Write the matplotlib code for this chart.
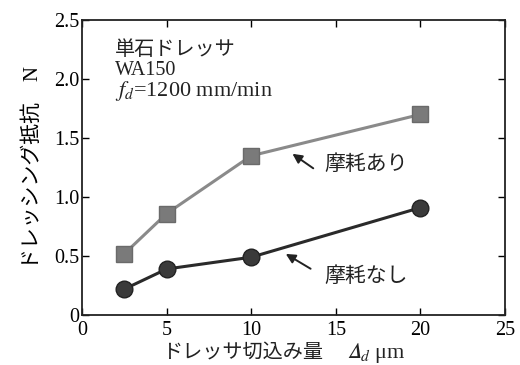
import matplotlib
matplotlib.use("Agg")
import matplotlib.pyplot as plt

x_vals = [2.5, 5, 10, 20]
wear_yes = [0.52, 0.86, 1.35, 1.70]
wear_no = [0.22, 0.39, 0.49, 0.91]
xticks = [0, 5, 10, 15, 20, 25]
yticks = [0, 0.5, 1.0, 1.5, 2.0, 2.5]
ytick_labels = ["0", "0.5", "1.0", "1.5", "2.0", "2.5"]

plt.rcParams['font.family'] = ['Liberation Serif', 'Noto Sans CJK JP']
plt.rcParams['mathtext.fontset'] = 'stix'

fig = plt.figure(figsize=(5.2, 3.65), dpi=100)
ax = fig.add_axes([0.158, 0.137, 0.813, 0.808])

ax.plot(x_vals, wear_yes, color='#8a8a8a', lw=2.2, marker='s', ms=12,
        mfc='#7a7a7a', mec='#6a6a6a', zorder=3)
ax.plot(x_vals, wear_no, color='#2a2a2a', lw=2.2, marker='o', ms=12,
        mfc='#3a3a3a', mec='#222222', zorder=3)

ax.set_xlim(0, 25)
ax.set_ylim(0, 2.5)
ax.set_xticks(xticks)
ax.set_xticklabels([str(t) for t in xticks])
ax.set_yticks(yticks)
ax.set_yticklabels(ytick_labels)
ax.tick_params(direction='in', top=True, right=True, labelsize=14.5, length=5,
               width=1)
ax.tick_params(axis='y', pad=2)
ax.tick_params(axis='x', pad=4)
for s in ax.spines.values():
    s.set_linewidth(1.3)
    s.set_color('#222222')

jp = ['Noto Sans CJK JP', 'Liberation Serif']
mix = ['Liberation Serif', 'Noto Sans CJK JP']
ax.set_ylabel('ドレッシング抵抗\u3000N', fontsize=15, family=mix, labelpad=8)

ax.text(0.57, -0.128, 'ドレッサ切込み量', transform=ax.transAxes, ha='right',
        va='center', fontsize=14.5, family=jp, color='#222222')
ax.text(0.626, -0.128, '$\U0001D6E5_d$ μm', transform=ax.transAxes, ha='left',
        va='center', fontsize=16, color='#222222')

ax.text(1.95, 2.25, '単石ドレッサ', fontsize=14.5, family=jp, va='center', color='#222222')
ax.text(1.95, 2.07, 'WA150', fontsize=14.5, va='center', color='#222222')
ax.text(1.95, 1.90, '$f_d$=1200 mm/min', fontsize=16, va='center', color='#222222')

ax.annotate('', xy=(12.3, 1.38), xytext=(13.8, 1.23),
            arrowprops=dict(arrowstyle='-|>', color='#222222', lw=1.4, mutation_scale=14))
ax.text(14.3, 1.28, '摩耗あり', fontsize=15, family=jp, va='center', color='#222222')
ax.annotate('', xy=(11.9, 0.53), xytext=(13.65, 0.38),
            arrowprops=dict(arrowstyle='-|>', color='#222222', lw=1.4, mutation_scale=14))
ax.text(14.3, 0.33, '摩耗なし', fontsize=15, family=jp, va='center', color='#222222')

fig.savefig('out.png', dpi=100)
